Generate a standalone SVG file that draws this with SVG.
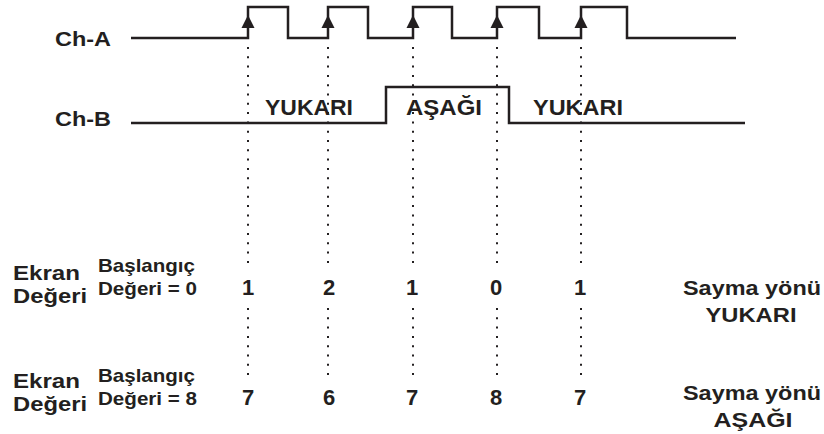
<svg xmlns="http://www.w3.org/2000/svg" width="824" height="434" viewBox="0 0 824 434">
<style>
.t{font-family:"Liberation Sans",Arial,sans-serif;font-weight:bold;fill:#231f20}
.w{fill:none;stroke:#231f20;stroke-width:2.5;stroke-linejoin:miter}
.d{fill:none;stroke:#231f20;stroke-width:2;stroke-dasharray:2 7.3}
.a{fill:#231f20}
.m{text-anchor:middle}
</style>
<rect width="824" height="434" fill="#fff"/>
<g id="chA">
<text class="t" x="55" y="46" font-size="20" textLength="56" lengthAdjust="spacingAndGlyphs">Ch-A</text>
<path class="w" d="M131,38 H248 V7 H288 V38 H328 V7 H368 V38 H413 V7 H452 V38 H497 V7 H539 V38 H581 V7 H627 V38 H736"/>
</g>
<g id="chB">
<text class="t" x="55" y="126" font-size="20" textLength="56" lengthAdjust="spacingAndGlyphs">Ch-B</text>
<path class="w" d="M131,123 H386 V87 H509 V123 H745"/>
<text class="t" x="265" y="115" font-size="22" textLength="88" lengthAdjust="spacingAndGlyphs">YUKARI</text>
<text class="t" x="406" y="115" font-size="22" textLength="76" lengthAdjust="spacingAndGlyphs">AŞAĞI</text>
<text class="t" x="533" y="115" font-size="22" textLength="90" lengthAdjust="spacingAndGlyphs">YUKARI</text>
</g>
<g id="connectors">
<g class="a">
<polygon points="248,15 241.5,28 254.5,28"/>
<polygon points="328,15 321.5,28 334.5,28"/>
<polygon points="413,15 406.5,28 419.5,28"/>
<polygon points="497,15 490.5,28 503.5,28"/>
<polygon points="581,15 574.5,28 587.5,28"/>
</g>
<path class="d" d="M248,47 V270 M248,308 V376 M328,47 V270 M328,308 V376 M413,47 V270 M413,308 V376 M497,47 V270 M497,308 V376 M581,47 V270 M581,308 V376"/>
</g>
<g id="row-up">
<text class="t" x="13" y="280" font-size="21" textLength="67" lengthAdjust="spacingAndGlyphs">Ekran</text>
<text class="t" x="13" y="303" font-size="21" textLength="74" lengthAdjust="spacingAndGlyphs">Değeri</text>
<text class="t" x="98" y="272" font-size="19" textLength="97" lengthAdjust="spacingAndGlyphs">Başlangıç</text>
<text class="t" x="98" y="295" font-size="19" textLength="99" lengthAdjust="spacingAndGlyphs">Değeri = 0</text>
<text class="t m" x="248" y="295" font-size="22">1</text>
<text class="t m" x="329" y="295" font-size="22">2</text>
<text class="t m" x="412" y="295" font-size="22">1</text>
<text class="t m" x="496" y="295" font-size="22">0</text>
<text class="t m" x="580" y="295" font-size="22">1</text>
<text class="t m" x="752" y="295" font-size="21" textLength="138" lengthAdjust="spacingAndGlyphs">Sayma yönü</text>
<text class="t m" x="751" y="322" font-size="21" textLength="91" lengthAdjust="spacingAndGlyphs">YUKARI</text>
</g>
<g id="row-down">
<text class="t" x="13" y="388" font-size="21" textLength="67" lengthAdjust="spacingAndGlyphs">Ekran</text>
<text class="t" x="13" y="411" font-size="21" textLength="74" lengthAdjust="spacingAndGlyphs">Değeri</text>
<text class="t" x="98" y="382" font-size="19" textLength="97" lengthAdjust="spacingAndGlyphs">Başlangıç</text>
<text class="t" x="98" y="405" font-size="19" textLength="99" lengthAdjust="spacingAndGlyphs">Değeri = 8</text>
<text class="t m" x="248" y="405" font-size="22">7</text>
<text class="t m" x="329" y="405" font-size="22">6</text>
<text class="t m" x="412" y="405" font-size="22">7</text>
<text class="t m" x="496" y="405" font-size="22">8</text>
<text class="t m" x="580" y="405" font-size="22">7</text>
<text class="t m" x="752" y="400" font-size="21" textLength="138" lengthAdjust="spacingAndGlyphs">Sayma yönü</text>
<text class="t m" x="753" y="427" font-size="21" textLength="79" lengthAdjust="spacingAndGlyphs">AŞAĞI</text>
</g>
</svg>
